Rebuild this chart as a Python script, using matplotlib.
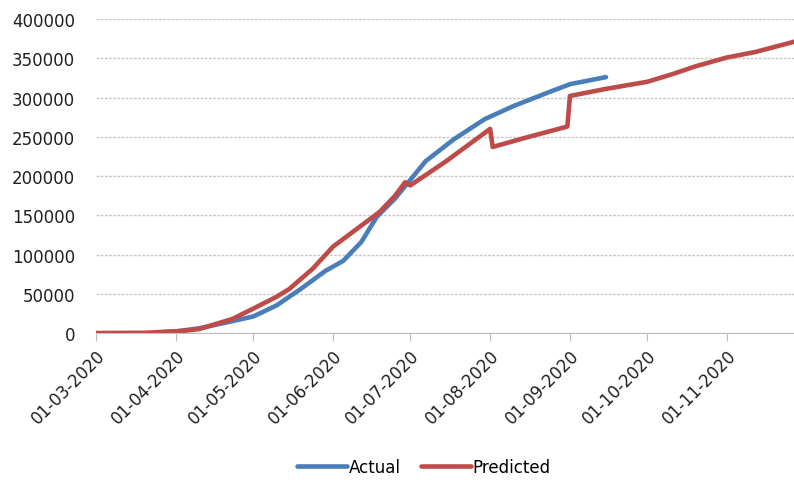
import pandas as pd
import matplotlib
matplotlib.use('Agg')
import matplotlib.pyplot as plt
import matplotlib.dates as mdates

# cumulative cases, actual vs model prediction
actual_dates = ['2020-03-24', '2020-04-01', '2020-04-10', '2020-04-20', '2020-05-01',
                '2020-05-10', '2020-05-19', '2020-05-29', '2020-06-05', '2020-06-12',
                '2020-06-18', '2020-06-25', '2020-07-02', '2020-07-07', '2020-07-18',
                '2020-07-30', '2020-08-10', '2020-08-24', '2020-09-01', '2020-09-15']
actual_vals = [500, 2000, 6000, 13000, 21000,
               35000, 55000, 79000, 92000, 116000,
               148000, 171000, 199000, 219000, 247000,
               272600, 289000, 307000, 317000, 326000]

pred_dates = ['2020-03-01', '2020-03-20', '2020-04-03', '2020-04-10', '2020-04-23',
              '2020-05-01', '2020-05-10', '2020-05-15', '2020-05-24', '2020-06-01',
              '2020-06-10', '2020-06-19', '2020-06-25', '2020-06-29', '2020-07-01',
              '2020-07-15', '2020-08-01', '2020-08-02', '2020-08-15', '2020-08-31',
              '2020-09-01', '2020-09-15', '2020-10-01', '2020-10-11', '2020-10-20',
              '2020-11-01', '2020-11-12', '2020-11-27']
pred_vals = [0, 300, 2500, 5000, 18000,
             31000, 46000, 56000, 81500, 110000,
             132000, 154000, 174500, 192000, 188000,
             219000, 260000, 237000, 249000, 263000,
             302000, 311000, 320000, 330000, 340000,
             351000, 358000, 371000]

actual_dates = pd.to_datetime(actual_dates)
pred_dates = pd.to_datetime(pred_dates)

fig = plt.figure(figsize=(7.94, 4.81), dpi=100)
ax = fig.add_axes([0.121, 0.3056, 0.879, 0.6528])

ax.plot(actual_dates, actual_vals, color='#4a7ebb', lw=3.3, label='Actual', solid_capstyle='round')
ax.plot(pred_dates, pred_vals, color='#be4b48', lw=3.3, label='Predicted', solid_capstyle='round')

ax.set_ylim(0, 400000)
ax.set_yticks(range(0, 400001, 50000))
ax.set_xlim(pd.Timestamp('2020-03-01'), pd.Timestamp('2020-11-27'))
ax.xaxis.set_major_locator(mdates.MonthLocator())
ax.xaxis.set_major_formatter(mdates.DateFormatter('%d-%m-%Y'))

for s in ['top', 'right', 'left']:
    ax.spines[s].set_visible(False)
ax.spines['bottom'].set_color('#bfbfbf')
ax.yaxis.grid(True, color='#c8c8c8', linestyle=(0, (2, 1)), lw=1)
ax.set_axisbelow(True)
ax.tick_params(axis='y', length=0, labelsize=12, pad=15, colors='#202020')
ax.tick_params(axis='x', length=6, color='#bfbfbf', labelsize=12, labelcolor='#202020')
plt.setp(ax.get_xticklabels(), rotation=45, ha='right', rotation_mode='anchor')

fig.legend(loc='center', bbox_to_anchor=(0.534, 0.027), ncol=2, frameon=False,
           fontsize=12, handlelength=3, columnspacing=1.2, handletextpad=0.1,
           borderpad=0)

fig.savefig('out.png', dpi=100)
